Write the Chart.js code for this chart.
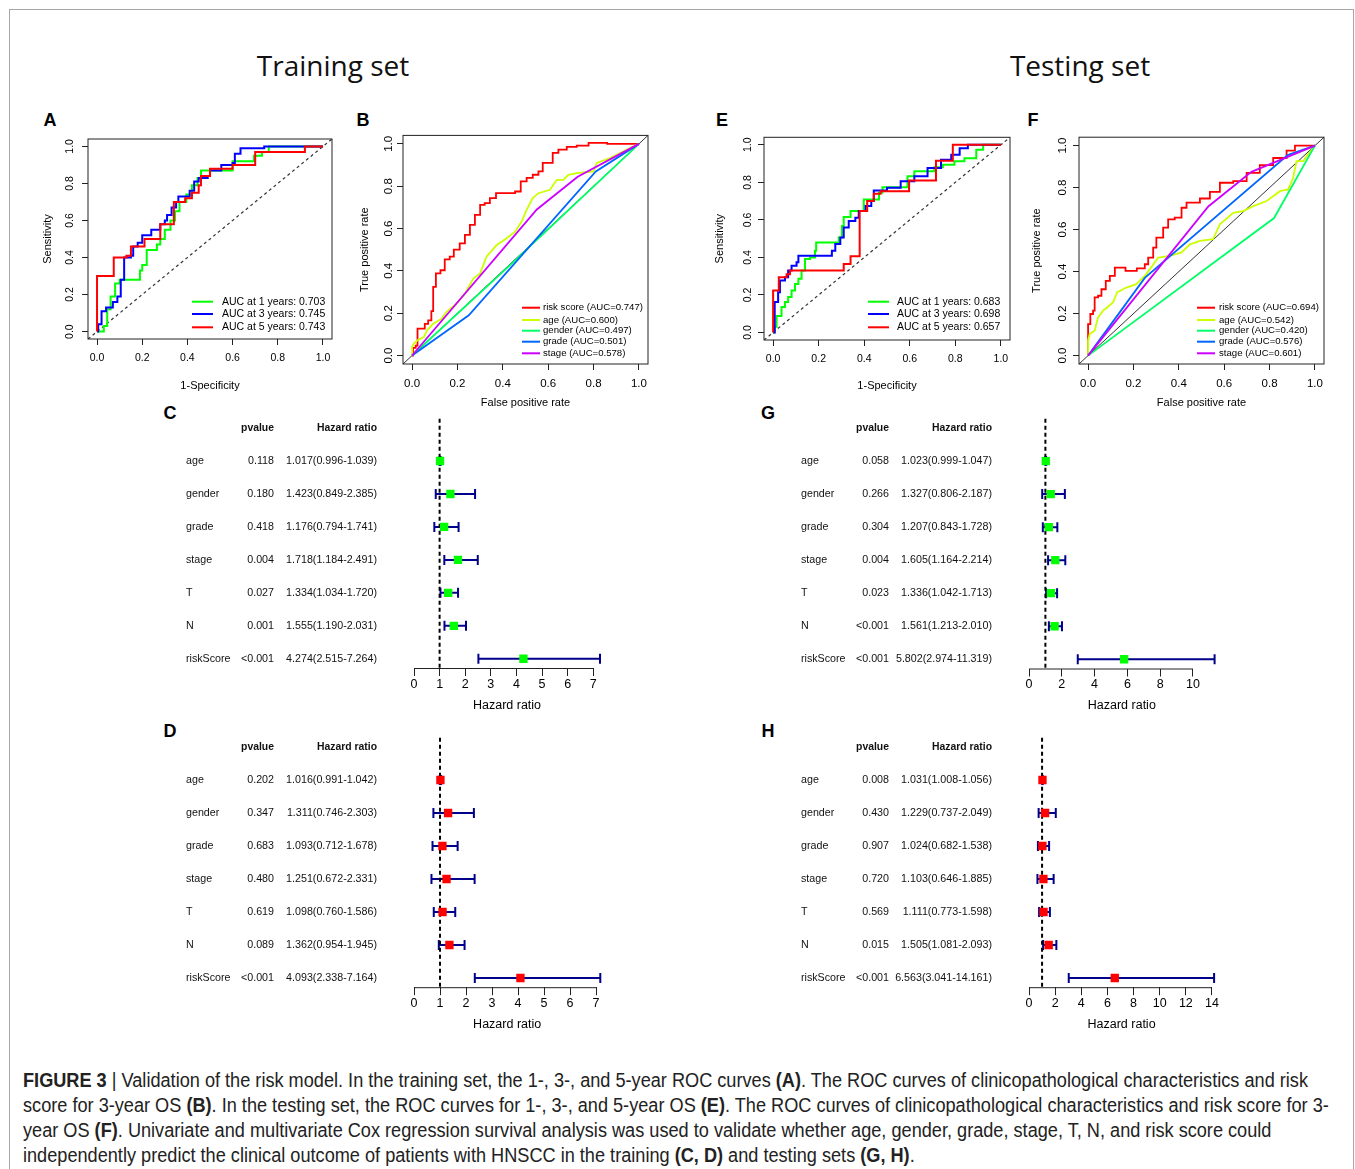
<!DOCTYPE html>
<html>
<head>
<meta charset="utf-8">
<title>Figure 3</title>
<script src="https://cdn.jsdelivr.net/npm/chart.js@4.4.1/dist/chart.umd.min.js"></script>
<style>
  body { margin: 0; background: #fff; font-family: "Liberation Sans", Arial, sans-serif; color: #000; }
  #page { position: relative; width: 1355px; height: 1169px; overflow: hidden; }
  #frame { position: absolute; left: 9px; top: 9px; width: 1345px; height: 1200px; box-sizing: border-box; border: 1px solid #a6a6a6; }
  canvas { position: absolute; }
  .settitle { position: absolute; top: 51px; font-family: "Open Sans", sans-serif; font-size: 28px; line-height: 28px; color: #111; transform: translateX(-50%); white-space: nowrap; }
  .letter { position: absolute; font-weight: bold; font-size: 18px; line-height: 18px; transform: translate(-50%, -50%); }
  #caption { position: absolute; left: 23px; top: 1068px; font-family: "Liberation Sans Narrow", "Liberation Sans", Arial, sans-serif; font-size: 19.5px; line-height: 25px; color: #222; transform-origin: 0 0; white-space: nowrap; }
</style>
</head>
<body>
<div id="page">
  <div id="frame"></div>
  <div class="settitle" style="left:333px">Training set</div>
  <div class="settitle" style="left:1080px">Testing set</div>

  <div class="letter" style="left:50px;top:120px">A</div>
  <div class="letter" style="left:363px;top:120px">B</div>
  <div class="letter" style="left:722px;top:120px">E</div>
  <div class="letter" style="left:1033px;top:120px">F</div>
  <div class="letter" style="left:170px;top:413px">C</div>
  <div class="letter" style="left:768px;top:413px">G</div>
  <div class="letter" style="left:170px;top:731px">D</div>
  <div class="letter" style="left:768px;top:731px">H</div>

  <div id="caption">
    <div><span><b>FIGURE 3</b> | Validation of the risk model. In the training set, the 1-, 3-, and 5-year ROC curves <b>(A)</b>. The ROC curves of clinicopathological characteristics and risk</span></div>
    <div><span>score for 3-year OS <b>(B)</b>. In the testing set, the ROC curves for 1-, 3-, and 5-year OS <b>(E)</b>. The ROC curves of clinicopathological characteristics and risk score for 3-</span></div>
    <div><span>year OS <b>(F)</b>. Univariate and multivariate Cox regression survival analysis was used to validate whether age, gender, grade, stage, T, N, and risk score could</span></div>
    <div><span>independently predict the clinical outcome of patients with HNSCC in the training <b>(C, D)</b> and testing sets <b>(G, H)</b>.</span></div>
  </div>
</div>

<script>
// DONNEES ROC : [taux faux positifs, taux vrais positifs]

var rocTicks = [0, 0.2, 0.4, 0.6, 0.8, 1.0];

var trainYear1 = [[0,0],[0.03,0.03],[0.045,0.12],[0.06,0.19],[0.08,0.26],[0.1,0.28],[0.19,0.33],[0.2,0.36],[0.22,0.44],[0.265,0.47],[0.28,0.5],[0.3,0.55],[0.325,0.6],[0.345,0.65],[0.365,0.7],[0.395,0.74],[0.42,0.79],[0.445,0.83],[0.46,0.87],[0.6,0.92],[0.695,0.95],[0.73,0.97],[0.76,1.0],[1,1]];
var trainYear3 = [[0,0],[0.005,0.04],[0.02,0.11],[0.04,0.13],[0.07,0.16],[0.09,0.19],[0.105,0.28],[0.12,0.4],[0.15,0.41],[0.16,0.46],[0.18,0.48],[0.2,0.52],[0.24,0.55],[0.28,0.58],[0.3,0.6],[0.31,0.63],[0.33,0.67],[0.35,0.7],[0.36,0.73],[0.41,0.76],[0.43,0.81],[0.45,0.83],[0.49,0.84],[0.5,0.87],[0.55,0.9],[0.6,0.91],[0.61,0.96],[0.635,0.99],[0.74,1.0],[1,1]];
var trainYear5 = [[0,0],[0,0.3],[0.074,0.4],[0.13,0.41],[0.15,0.46],[0.21,0.5],[0.28,0.58],[0.34,0.7],[0.39,0.72],[0.42,0.75],[0.45,0.79],[0.46,0.84],[0.5,0.88],[0.6,0.9],[0.7,0.97],[0.92,1.0],[1,1]];

var trainRisk = [[0,0],[0.004,0.036],[0.016,0.047],[0.024,0.127],[0.041,0.127],[0.056,0.15],[0.071,0.166],[0.085,0.21],[0.093,0.324],[0.105,0.388],[0.125,0.403],[0.144,0.454],[0.166,0.467],[0.184,0.5],[0.21,0.53],[0.233,0.57],[0.255,0.617],[0.277,0.665],[0.3,0.712],[0.32,0.72],[0.343,0.744],[0.37,0.767],[0.43,0.767],[0.454,0.775],[0.479,0.823],[0.505,0.839],[0.532,0.854],[0.557,0.87],[0.576,0.91],[0.6,0.91],[0.62,0.957],[0.645,0.973],[0.682,0.986],[0.726,0.992],[0.778,1.005],[0.86,1.0],[1,1]];
var trainAge = [[0,0],[0,0.04],[0.007,0.055],[0.027,0.074],[0.052,0.087],[0.066,0.119],[0.093,0.15],[0.13,0.174],[0.152,0.206],[0.196,0.245],[0.233,0.293],[0.27,0.364],[0.3,0.388],[0.328,0.467],[0.373,0.522],[0.417,0.554],[0.454,0.585],[0.483,0.633],[0.505,0.688],[0.532,0.744],[0.557,0.767],[0.608,0.783],[0.638,0.83],[0.667,0.83],[0.689,0.854],[0.726,0.862],[0.8,0.87],[0.814,0.91],[0.873,0.933],[0.947,0.973],[1,1]];
var trainGender = [[0,0],[0.42,0.415],[1,1]];
var trainGrade = [[0,0],[0.25,0.19],[0.81,0.87],[1,1]];
var trainStage = [[0,0],[0.55,0.69],[0.73,0.845],[1,1]];

var testYear1 = [[0,0],[0.007,0.03],[0.015,0.088],[0.037,0.136],[0.052,0.162],[0.066,0.189],[0.081,0.224],[0.096,0.259],[0.111,0.286],[0.125,0.33],[0.14,0.392],[0.162,0.4],[0.184,0.436],[0.189,0.48],[0.288,0.506],[0.302,0.568],[0.31,0.616],[0.34,0.647],[0.398,0.709],[0.465,0.744],[0.48,0.774],[0.59,0.832],[0.62,0.859],[0.708,0.88],[0.745,0.894],[0.796,0.912],[0.84,0.929],[0.892,0.974],[0.922,1],[1,1]];
var testYear3 = [[0,0],[0.007,0.162],[0.022,0.215],[0.03,0.277],[0.052,0.295],[0.066,0.33],[0.081,0.356],[0.103,0.374],[0.111,0.409],[0.258,0.436],[0.273,0.471],[0.295,0.506],[0.31,0.559],[0.332,0.594],[0.361,0.612],[0.376,0.647],[0.406,0.674],[0.431,0.7],[0.442,0.757],[0.5,0.771],[0.56,0.806],[0.62,0.832],[0.678,0.877],[0.737,0.921],[0.782,0.947],[0.819,0.982],[0.855,1],[1,1]];
var testYear5 = [[0,0],[0,0.224],[0.025,0.295],[0.059,0.31],[0.074,0.33],[0.31,0.365],[0.34,0.406],[0.38,0.647],[0.413,0.7],[0.442,0.739],[0.472,0.753],[0.597,0.81],[0.715,0.915],[0.789,1],[1,1]];

var testRisk = [[0,0],[0,0.15],[0.01,0.198],[0.022,0.214],[0.029,0.277],[0.044,0.285],[0.059,0.316],[0.078,0.356],[0.096,0.38],[0.118,0.419],[0.165,0.403],[0.215,0.415],[0.25,0.435],[0.265,0.467],[0.287,0.514],[0.301,0.562],[0.331,0.609],[0.353,0.649],[0.382,0.657],[0.412,0.704],[0.434,0.728],[0.493,0.748],[0.537,0.78],[0.581,0.823],[0.64,0.831],[0.699,0.87],[0.757,0.907],[0.816,0.941],[0.875,0.976],[0.912,1.0],[1,1]];
var testAge = [[0,0],[0,0.071],[0.007,0.103],[0.029,0.119],[0.044,0.182],[0.066,0.214],[0.084,0.229],[0.11,0.253],[0.128,0.301],[0.169,0.324],[0.213,0.34],[0.257,0.388],[0.309,0.467],[0.36,0.475],[0.412,0.491],[0.449,0.53],[0.493,0.546],[0.551,0.554],[0.581,0.625],[0.64,0.68],[0.684,0.688],[0.728,0.712],[0.787,0.736],[0.846,0.783],[0.882,0.791],[0.904,0.847],[0.919,0.926],[0.949,0.926],[0.963,0.949],[1,1]];
var testGender = [[0,0],[0.82,0.655],[1,1]];
var testGrade = [[0,0],[0.25,0.37],[0.88,0.955],[1,1]];
var testStage = [[0,0],[0.53,0.71],[0.72,0.875],[1,1]];

// DONNEES COX

var coxVars = ["age", "gender", "grade", "stage", "T", "N", "riskScore"];

var uniTrainP = ["0.118", "0.180", "0.418", "0.004", "0.027", "0.001", "<0.001"];
var uniTrainHR = [1.017, 1.423, 1.176, 1.718, 1.334, 1.555, 4.274];
var uniTrainLow = [0.996, 0.849, 0.794, 1.184, 1.034, 1.190, 2.515];
var uniTrainHigh = [1.039, 2.385, 1.741, 2.491, 1.720, 2.031, 7.264];

var multiTrainP = ["0.202", "0.347", "0.683", "0.480", "0.619", "0.089", "<0.001"];
var multiTrainHR = [1.016, 1.311, 1.093, 1.251, 1.098, 1.362, 4.093];
var multiTrainLow = [0.991, 0.746, 0.712, 0.672, 0.760, 0.954, 2.338];
var multiTrainHigh = [1.042, 2.303, 1.678, 2.331, 1.586, 1.945, 7.164];

var uniTestP = ["0.058", "0.266", "0.304", "0.004", "0.023", "<0.001", "<0.001"];
var uniTestHR = [1.023, 1.327, 1.207, 1.605, 1.336, 1.561, 5.802];
var uniTestLow = [0.999, 0.806, 0.843, 1.164, 1.042, 1.213, 2.974];
var uniTestHigh = [1.047, 2.187, 1.728, 2.214, 1.713, 2.010, 11.319];

var multiTestP = ["0.008", "0.430", "0.907", "0.720", "0.569", "0.015", "<0.001"];
var multiTestHR = [1.031, 1.229, 1.024, 1.103, 1.111, 1.505, 6.563];
var multiTestLow = [1.008, 0.737, 0.682, 0.646, 0.773, 1.081, 3.041];
var multiTestHigh = [1.056, 2.049, 1.538, 1.885, 1.598, 2.093, 14.161];

var hrTicks7 = [0, 1, 2, 3, 4, 5, 6, 7];
var hrTicks10 = [0, 2, 4, 6, 8, 10];
var hrTicks14 = [0, 2, 4, 6, 8, 10, 12, 14];

Chart.defaults.font.family = '"Liberation Sans", Arial, sans-serif';
Chart.defaults.color = '#000';

function addCanvas(id, r) {
    var c = document.createElement('canvas');
    c.id = id;
    c.width = r[2];
    c.height = r[3];
    c.style.left = r[0] + 'px';
    c.style.top = r[1] + 'px';
    document.getElementById('page').appendChild(c);
    return c;
}

// CADRE + LEGENDE DANS LE GRAPHE ROC
var rocBox = {
    id: 'rocBox',
    afterDraw: function(chart, args, o) {
        var ctx = chart.ctx, a = chart.chartArea;
        ctx.save();
        ctx.strokeStyle = '#222';
        ctx.lineWidth = 1;
        ctx.strokeRect(a.left, a.top, a.right - a.left, a.bottom - a.top);
        ctx.font = o.size + 'px "Liberation Sans", Arial, sans-serif';
        ctx.textBaseline = 'middle';
        ctx.textAlign = 'left';
        ctx.fillStyle = '#000';
        var k = 0;
        chart.data.datasets.forEach(function(ds) {
            if (!ds.label) return;
            var y = a.bottom + o.rows[k];
            ctx.strokeStyle = ds.borderColor;
            ctx.lineWidth = 2;
            ctx.beginPath();
            ctx.moveTo(a.right + o.line[0], y);
            ctx.lineTo(a.right + o.line[1], y);
            ctx.stroke();
            ctx.fillText(ds.label, a.right + o.text, y);
            k++;
        });
        ctx.restore();
    }
};

function curve(label, pts, color, width, stepped, order) {
    return {
        label: label,
        data: pts.map(function(p) { return { x: p[0], y: p[1] }; }),
        borderColor: color,
        borderWidth: width,
        stepped: stepped,
        order: order,
        fill: false,
        pointRadius: 0
    };
}

function rocChart(id, p, datasets) {
    var box = p.box;
    var cnv = addCanvas(id, p.cnv);
    var fmt = function(v) { return v.toFixed(1); };
    var setTicks = function(s) { s.ticks = rocTicks.map(function(v) { return { value: v }; }); };
    return new Chart(cnv, {
        type: 'line',
        data: { datasets: datasets },
        options: {
            responsive: false,
            maintainAspectRatio: false,
            animation: false,
            layout: { padding: { left: 0, top: box[1] - p.cnv[1], right: p.cnv[0] + p.cnv[2] - box[2], bottom: 0 } },
            plugins: { legend: { display: false }, tooltip: { enabled: false }, rocBox: p.legend },
            elements: { line: { tension: 0 } },
            scales: {
                x: {
                    type: 'linear', min: -0.04, max: 1.04,
                    afterBuildTicks: setTicks,
                    afterFit: function(s) { s.height = p.cnv[1] + p.cnv[3] - box[3]; },
                    grid: { drawOnChartArea: false, tickLength: 6, color: '#222' },
                    border: { display: false },
                    ticks: { autoSkip: false, maxRotation: 0, padding: p.xPad, font: { size: p.tickSize }, callback: fmt },
                    title: { display: true, text: p.xTitle, font: { size: 11 }, padding: { top: 0, bottom: p.xTitlePad } }
                },
                y: {
                    type: 'linear', min: -0.04, max: 1.04,
                    afterBuildTicks: setTicks,
                    afterFit: function(s) { s.width = box[0] - p.cnv[0]; },
                    grid: { drawOnChartArea: false, tickLength: 6, color: '#222' },
                    border: { display: false },
                    ticks: { autoSkip: false, minRotation: 90, maxRotation: 90, crossAlign: 'center', padding: p.yPad, font: { size: p.tickSize }, callback: fmt },
                    title: { display: true, text: p.yTitle, font: { size: 11 }, padding: { top: p.yTitlePad, bottom: 0 } }
                }
            }
        },
        plugins: [rocBox]
    });
}

// BARRES D'ERREUR, LIGNE HR=1, AXE ET TABLEAU DU FOREST PLOT
var forestPlugin = {
    id: 'forest',
    beforeDatasetsDraw: function(chart) {
        var ctx = chart.ctx, a = chart.chartArea, xs = chart.scales.x, ys = chart.scales.y;
        var ds = chart.data.datasets[0];
        ctx.save();
        ctx.strokeStyle = '#00008b';
        ctx.lineWidth = 2;
        ds.data.forEach(function(pt, i) {
            var y = ys.getPixelForValue(pt.y);
            var x1 = xs.getPixelForValue(ds.low[i]);
            var x2 = xs.getPixelForValue(ds.high[i]);
            ctx.beginPath();
            ctx.moveTo(x1, y); ctx.lineTo(x2, y);
            ctx.moveTo(x1, y - 5); ctx.lineTo(x1, y + 5);
            ctx.moveTo(x2, y - 5); ctx.lineTo(x2, y + 5);
            ctx.stroke();
        });
        var xr = xs.getPixelForValue(1);
        ctx.strokeStyle = '#000';
        ctx.setLineDash([4, 3]);
        ctx.beginPath();
        ctx.moveTo(xr, a.top);
        ctx.lineTo(xr, a.bottom);
        ctx.stroke();
        ctx.restore();
    },
    afterDraw: function(chart, args, o) {
        var ctx = chart.ctx, a = chart.chartArea, xs = chart.scales.x, ys = chart.scales.y;
        var ds = chart.data.datasets[0];
        var n = coxVars.length;
        ctx.save();
        // AXE DE 0 A LA DERNIERE GRADUATION
        var t = xs.ticks;
        ctx.strokeStyle = '#222';
        ctx.lineWidth = 1;
        ctx.beginPath();
        ctx.moveTo(xs.getPixelForValue(t[0].value), a.bottom + 0.5);
        ctx.lineTo(xs.getPixelForValue(t[t.length - 1].value), a.bottom + 0.5);
        ctx.stroke();
        // TABLEAU
        ctx.fillStyle = '#111';
        ctx.textBaseline = 'middle';
        var yh = ys.getPixelForValue(n + 1);
        ctx.font = 'bold 10.4px "Liberation Sans", Arial, sans-serif';
        ctx.textAlign = 'right';
        ctx.fillText('pvalue', a.left + o.pX, yh);
        ctx.fillText('Hazard ratio', a.left + o.hrX, yh);
        ctx.font = '10.7px "Liberation Sans", Arial, sans-serif';
        coxVars.forEach(function(name, i) {
            var y = ys.getPixelForValue(n - i);
            ctx.textAlign = 'left';
            ctx.fillText(name, a.left + o.nameX, y);
            ctx.textAlign = 'right';
            ctx.fillText(ds.pvals[i], a.left + o.pX, y);
            var txt = ds.hr[i].toFixed(3) + '(' + ds.low[i].toFixed(3) + '-' + ds.high[i].toFixed(3) + ')';
            ctx.fillText(txt, a.left + o.hrX, y);
        });
        ctx.restore();
    }
};

function forestChart(id, p, hr, low, high, pvals) {
    var box = p.box;
    var n = coxVars.length;
    var cnv = addCanvas(id, p.cnv);
    return new Chart(cnv, {
        type: 'scatter',
        data: {
            datasets: [{
                data: hr.map(function(v, i) { return { x: v, y: n - i }; }),
                hr: hr, low: low, high: high, pvals: pvals,
                pointStyle: 'rect',
                pointRadius: 5.9,
                pointBorderWidth: 0,
                backgroundColor: p.color,
                borderColor: p.color
            }]
        },
        options: {
            responsive: false,
            maintainAspectRatio: false,
            animation: false,
            layout: { padding: { left: box[0] - p.cnv[0], top: box[1] - p.cnv[1], right: p.cnv[0] + p.cnv[2] - box[2], bottom: 0 } },
            plugins: { legend: { display: false }, tooltip: { enabled: false }, forest: { nameX: -228, pX: -140, hrX: -37 } },
            scales: {
                x: {
                    type: 'linear', min: 0, max: p.xMax,
                    afterBuildTicks: function(s) { s.ticks = p.ticks.map(function(v) { return { value: v }; }); },
                    afterFit: function(s) { s.height = p.cnv[1] + p.cnv[3] - box[3]; },
                    grid: { drawOnChartArea: false, tickLength: 8, color: '#222' },
                    border: { display: false },
                    ticks: { autoSkip: false, maxRotation: 0, padding: 1, font: { size: 12.5 } },
                    title: { display: true, text: 'Hazard ratio', font: { size: 12.5 }, padding: { top: 0, bottom: 1.5 } }
                },
                y: { type: 'linear', display: false, min: 0.72, max: n + 1.28 }
            }
        },
        plugins: [forestPlugin]
    });
}

// COURBES ROC

var diagDot = function() { var d = curve('', [[-0.04, -0.04], [1.04, 1.04]], '#333', 1.2, false, 9); d.borderDash = [3, 3]; return d; };
var diagSolid = function() { return curve('', [[-0.04, -0.04], [1.04, 1.04]], '#333', 1, false, 9); };

rocChart('rocA', {
    box: [88, 134, 332, 339], cnv: [30, 128, 312, 268], tickSize: 10.5,
    xPad: 6.7, yPad: 4.7, xTitle: '1-Specificity', yTitle: 'Sensitivity', xTitlePad: 3.4, yTitlePad: 11.4,
    legend: { line: [-140, -119], text: -110, rows: [-37.3, -25, -11.7], size: 10.5 }
}, [
    curve('AUC at 1 years: 0.703', trainYear1, '#00ff00', 2, 'before', 3),
    curve('AUC at 3 years: 0.745', trainYear3, '#0000ff', 2, 'before', 2),
    curve('AUC at 5 years: 0.743', trainYear5, '#ff0000', 2, 'before', 1),
    diagDot()
]);

rocChart('rocB', {
    box: [403, 135, 648, 364], cnv: [350, 128, 308, 290], tickSize: 11.5,
    xPad: 7.1, yPad: 0.5, xTitle: 'False positive rate', yTitle: 'True positive rate', xTitlePad: 8.4, yTitlePad: 8.4,
    legend: { line: [-126, -108], text: -105, rows: [-56.3, -44, -33.3, -22.3, -10.7], size: 9.6 }
}, [
    curve('risk score (AUC=0.747)', trainRisk, '#ff0000', 1.8, 'before', 5),
    curve('age (AUC=0.600)', trainAge, '#ccff00', 1.8, false, 4),
    curve('gender (AUC=0.497)', trainGender, '#00ff66', 1.8, false, 3),
    curve('grade (AUC=0.501)', trainGrade, '#0066ff', 1.8, false, 2),
    curve('stage (AUC=0.578)', trainStage, '#cc00ff', 1.8, false, 1),
    diagSolid()
]);

rocChart('rocE', {
    box: [764, 134, 1010, 340], cnv: [700, 128, 322, 268], tickSize: 10.5,
    xPad: 6.7, yPad: 3, xTitle: '1-Specificity', yTitle: 'Sensitivity', xTitlePad: 3.4, yTitlePad: 13.4,
    legend: { line: [-142, -121], text: -113, rows: [-38.3, -26, -12.7], size: 10.5 }
}, [
    curve('AUC at 1 years: 0.683', testYear1, '#00ff00', 2, 'before', 3),
    curve('AUC at 3 years: 0.698', testYear3, '#0000ff', 2, 'before', 2),
    curve('AUC at 5 years: 0.657', testYear5, '#ff0000', 2, 'before', 1),
    diagDot()
]);

rocChart('rocF', {
    box: [1079, 135, 1324, 364], cnv: [1020, 128, 314, 290], tickSize: 11.5,
    xPad: 7.1, yPad: 2.3, xTitle: 'False positive rate', yTitle: 'True positive rate', xTitlePad: 8.4, yTitlePad: 10.4,
    legend: { line: [-127, -109], text: -105, rows: [-56.3, -44, -33.3, -22.3, -10.7], size: 9.6 }
}, [
    curve('risk score (AUC=0.694)', testRisk, '#ff0000', 1.8, 'before', 5),
    curve('age (AUC=0.542)', testAge, '#ccff00', 1.8, false, 4),
    curve('gender (AUC=0.420)', testGender, '#00ff66', 1.8, false, 3),
    curve('grade (AUC=0.576)', testGrade, '#0066ff', 1.8, false, 2),
    curve('stage (AUC=0.601)', testStage, '#cc00ff', 1.8, false, 1),
    diagSolid()
]);

// FOREST PLOTS

forestChart('coxC', { box: [414, 418.8, 600, 668], cnv: [175, 405, 440, 310], xMax: 7.264, ticks: hrTicks7, color: '#00ff00' },
    uniTrainHR, uniTrainLow, uniTrainHigh, uniTrainP);
forestChart('coxD', { box: [414, 737.8, 600.3, 987.2], cnv: [175, 724, 440, 310], xMax: 7.164, ticks: hrTicks7, color: '#ff0000' },
    multiTrainHR, multiTrainLow, multiTrainHigh, multiTrainP);
forestChart('coxG', { box: [1029, 418.8, 1214.6, 668.5], cnv: [785, 405, 450, 310], xMax: 11.319, ticks: hrTicks10, color: '#00ff00' },
    uniTestHR, uniTestLow, uniTestHigh, uniTestP);
forestChart('coxH', { box: [1029, 737.8, 1214.1, 987.2], cnv: [785, 724, 450, 310], xMax: 14.161, ticks: hrTicks14, color: '#ff0000' },
    multiTestHR, multiTestLow, multiTestHigh, multiTestP);

// LEGENDE DE LA FIGURE : AJUSTEE A LA LARGEUR
var capSpans = document.querySelectorAll('#caption span');
var w1 = capSpans[0].getBoundingClientRect().width;
document.getElementById('caption').style.transform = 'scaleX(' + (1285 / w1) + ')';
</script>
</body>
</html>
